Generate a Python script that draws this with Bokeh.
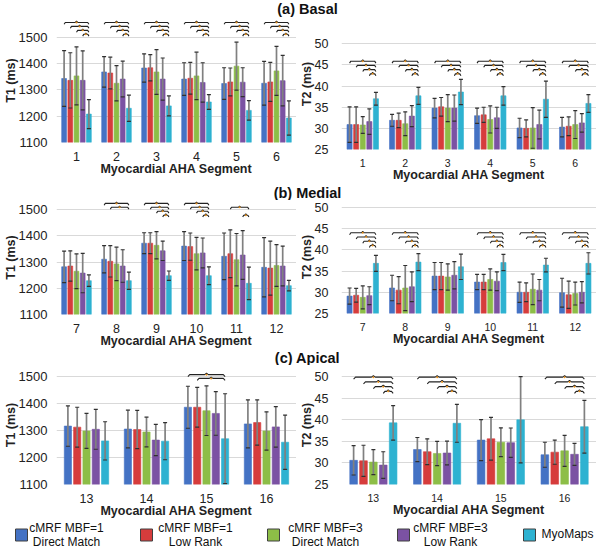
from bokeh.plotting import figure
from bokeh.layouts import column, row
from bokeh.models import ColumnDataSource, Whisker, FixedTicker, Range1d, TeeHead
from bokeh.embed import file_html
from bokeh.resources import INLINE
from bokeh.core.properties import value

# ---------------- data ----------------
SERIES_LINE1 = ["cMRF MBF=1", "cMRF MBF=1", "cMRF MBF=3", "cMRF MBF=3", "MyoMaps"]
SERIES_LINE2 = ["Direct Match", "Low Rank", "Direct Match", "Low Rank", ""]
COLORS = ["#4472C4", "#D63C3C", "#8DBE47", "#7B52A3", "#2EB2D1"]

SECTION_TITLES = ["(a) Basal", "(b) Medial", "(c) Apical"]
X_LABEL = "Myocardial AHA Segment"

basal_segments = [1, 2, 3, 4, 5, 6]
medial_segments = [7, 8, 9, 10, 11, 12]
apical_segments = [13, 14, 15, 16]

t1_ticks = [1100, 1200, 1300, 1400, 1500]
t2_ticks = [25, 30, 35, 40, 45, 50]

# rows: DM MBF1, LR MBF1, DM MBF3, LR MBF3, MyoMaps
basal_t1_mean = [[1343, 1368, 1383, 1341, 1324, 1325],
                 [1336, 1364, 1384, 1344, 1330, 1330],
                 [1353, 1325, 1368, 1353, 1390, 1372],
                 [1336, 1341, 1341, 1328, 1329, 1335],
                 [1208, 1230, 1239, 1254, 1222, 1193]]
basal_t1_sd = [[106, 58, 54, 62, 60, 83],
               [105, 60, 50, 60, 53, 74],
               [110, 67, 85, 90, 91, 93],
               [112, 68, 80, 75, 55, 96],
               [55, 50, 38, 28, 37, 65]]

basal_t2_mean = [[30.9, 31.9, 34.8, 33.0, 30.1, 30.3],
                 [30.9, 31.9, 35.1, 33.2, 30.0, 30.5],
                 [30.8, 31.1, 34.8, 32.1, 30.1, 30.9],
                 [31.6, 32.9, 34.8, 32.5, 30.9, 31.3],
                 [37.0, 37.7, 38.6, 37.7, 36.9, 35.9]]
basal_t2_sd = [[4.2, 1.4, 2.3, 1.8, 2.3, 2.3],
               [4.2, 1.7, 2.2, 1.8, 2.0, 2.2],
               [2.0, 2.8, 3.2, 3.2, 4.8, 3.3],
               [3.0, 2.5, 3.1, 2.5, 3.4, 2.2],
               [1.5, 2.0, 3.0, 2.2, 4.3, 2.1]]

medial_t1_mean = [[1282, 1311, 1372, 1361, 1322, 1280],
                  [1285, 1303, 1372, 1359, 1332, 1277],
                  [1265, 1293, 1364, 1332, 1309, 1287],
                  [1258, 1285, 1343, 1335, 1327, 1285],
                  [1229, 1229, 1248, 1248, 1219, 1210]]
medial_t1_sd = [[60, 52, 40, 55, 89, 113],
                [58, 60, 40, 52, 91, 103],
                [66, 64, 52, 62, 100, 80],
                [75, 62, 37, 57, 93, 76],
                [22, 33, 18, 34, 62, 20]]

medial_t2_mean = [[29.1, 31.0, 33.8, 32.4, 30.0, 29.9],
                  [29.3, 30.5, 33.8, 32.4, 30.0, 29.4],
                  [28.8, 31.0, 33.6, 33.0, 30.7, 29.7],
                  [29.2, 31.3, 34.0, 32.6, 30.5, 30.0],
                  [36.8, 37.1, 36.0, 37.0, 36.4, 36.8]]
medial_t2_sd = [[1.9, 3.0, 3.2, 1.8, 2.4, 3.4],
                [1.6, 3.2, 3.2, 1.8, 2.2, 3.2],
                [2.7, 5.3, 3.1, 2.5, 3.6, 2.7],
                [2.1, 3.5, 3.2, 2.2, 2.5, 2.5],
                [1.9, 2.0, 3.0, 1.9, 1.6, 2.5]]

apical_t1_mean = [[1317, 1306, 1387, 1325],
                  [1313, 1304, 1387, 1330],
                  [1299, 1295, 1374, 1299],
                  [1305, 1265, 1364, 1314],
                  [1262, 1261, 1270, 1257]]
apical_t1_sd = [[75, 70, 78, 89],
                [74, 71, 74, 84],
                [65, 55, 92, 71],
                [74, 58, 81, 75],
                [71, 69, 167, 101]]

apical_t2_mean = [[30.6, 33.1, 35.3, 31.9],
                  [30.5, 32.6, 35.6, 32.5],
                  [30.2, 32.2, 34.8, 32.8],
                  [29.5, 32.3, 34.7, 32.0],
                  [39.3, 39.2, 40.0, 38.4]]
apical_t2_sd = [[3.4, 2.8, 4.75, 2.9],
                [3.6, 3.0, 4.95, 2.8],
                [2.9, 2.8, 3.35, 3.6],
                [3.1, 2.75, 3.4, 2.55],
                [4.0, 4.4, 10.0, 6.1]]

# significance braces: segment index -> list of (start bar, stack level); all end at MyoMaps
FULL = [(0, 0), (1, 1), (2, 2), (3, 3)]
basal_t1_sig = {0: FULL, 1: FULL, 2: FULL, 3: FULL, 4: FULL, 5: FULL}
basal_t2_sig = {0: FULL, 1: FULL, 2: FULL, 3: FULL, 4: FULL, 5: FULL}
medial_t1_sig = {1: [(0, 0), (1, 1)], 2: FULL, 3: FULL, 4: [(1, 1), (3, 3)]}
medial_t2_sig = {0: FULL, 1: FULL, 3: FULL, 4: FULL, 5: FULL}
apical_t1_sig = {2: [(0, 0), (1, 1)]}
apical_t2_sig = {0: FULL, 1: FULL, 3: FULL}

# ---------------- style ----------------
FONT = "Liberation Sans"
BAR_STEP = 0.155
BAR_W = 0.12
GRID = "#d9d9d9"
PAGE_W = 596


def panel(segments, means, sds, sig, ylabel, yticks, yend, brace_top, brace_step,
          width, height, border_left, xfont, yfont, xstand, xtitle_stand, ystand, hook, bump):
    n = len(segments)
    ystart = yticks[0]
    p = figure(width=width, height=height, output_backend="svg", toolbar_location=None,
               x_range=Range1d(-0.5, n - 0.5), y_range=Range1d(ystart, yend),
               min_border_left=border_left, min_border_right=0,
               min_border_top=0, min_border_bottom=0)
    p.outline_line_color = None
    p.background_fill_color = "white"
    p.xgrid.visible = False
    p.ygrid.grid_line_color = GRID
    p.ygrid.grid_line_width = 1.2
    p.yaxis.ticker = FixedTicker(ticks=yticks)
    p.xaxis.ticker = FixedTicker(ticks=list(range(n)))
    p.xaxis.major_label_overrides = {i: str(s) for i, s in enumerate(segments)}
    for ax in (p.xaxis[0], p.yaxis[0]):
        ax.axis_line_color = None
        ax.major_tick_line_color = None
        ax.minor_tick_line_color = None
        ax.major_tick_out = 0
        ax.major_tick_in = 0
        ax.minor_tick_out = 0
        ax.minor_tick_in = 0
        ax.major_label_text_font = FONT
        ax.axis_label_text_font = FONT
        ax.axis_label_text_font_style = "bold"
        ax.axis_label_text_font_size = "12.5px"
        ax.axis_label_text_color = "#222222"
        ax.major_label_text_color = "#222222"
    p.xaxis.axis_label_standoff = xtitle_stand
    p.yaxis.axis_label_standoff = -2
    p.xaxis.major_label_text_font_size = xfont
    p.yaxis.major_label_text_font_size = yfont
    p.xaxis.major_label_standoff = xstand
    p.yaxis.major_label_standoff = ystand
    p.xaxis.axis_label = X_LABEL
    p.yaxis.axis_label = ylabel

    for j in range(5):
        xs = [i + (j - 2) * BAR_STEP for i in range(n)]
        src = ColumnDataSource(dict(
            x=xs, top=means[j],
            upper=[m + s for m, s in zip(means[j], sds[j])],
            lower=[m - s for m, s in zip(means[j], sds[j])]))
        p.vbar(x="x", top="top", bottom=ystart, width=BAR_W, source=src,
               fill_color=COLORS[j], line_color=COLORS[j], line_alpha=0.6, line_width=1)
        w = Whisker(source=src, base="x", upper="upper", lower="lower",
                    line_color="#808080", line_width=1.7, level="annotation",
                    upper_head=TeeHead(size=4, line_color="#303030", line_width=1.2),
                    lower_head=TeeHead(size=4, line_color="#303030", line_width=1.2))
        p.add_layout(w)

    bx, by, sx, sy = [], [], [], []
    for seg, pairs in sig.items():
        x1 = seg + 2 * BAR_STEP
        for start, level in pairs:
            x0 = seg + (start - 2) * BAR_STEP
            y = brace_top - level * brace_step
            xm = (x0 + x1) / 2
            e = min(0.03, (x1 - x0) / 6)
            bx.append([x0, x0 + e, xm - e, xm, xm + e, x1 - e, x1])
            by.append([y - hook, y, y, y + bump, y, y, y - hook])
            sx.append(xm)
            sy.append(y)
    if bx:
        p.multi_line(bx, by, line_color="#222222", line_width=1.1)
        p.scatter(sx, sy, size=2, marker="circle", fill_color="#E8901A", line_color=None)
    return p


def title_fig(txt, height):
    p = figure(width=PAGE_W, height=height, output_backend="svg", toolbar_location=None,
               x_range=Range1d(0, PAGE_W), y_range=Range1d(0, height),
               x_axis_type=None, y_axis_type=None,
               min_border=0)
    p.outline_line_color = None
    p.grid.visible = False
    p.text(x=[307], y=[height / 2 + 0.5], text=[txt], text_font=value(FONT),
           text_font_style="bold", text_font_size="14.5px", text_align="center",
           text_baseline="middle", text_color="#111111")
    return p


def legend_fig(height):
    p = figure(width=PAGE_W, height=height, output_backend="svg", toolbar_location=None,
               x_range=Range1d(0, PAGE_W), y_range=Range1d(0, height),
               x_axis_type=None, y_axis_type=None, min_border=0)
    p.outline_line_color = None
    p.grid.visible = False
    sq_x = [21, 146, 273, 403, 529]
    tx = [66, 195, 325, 450, 541]
    ymid = height / 2
    p.rect(x=sq_x, y=[ymid] * 5, width=12, height=12, fill_color=COLORS,
           line_color="#404040", line_width=1)
    for k in range(5):
        if SERIES_LINE2[k]:
            p.text(x=[tx[k]], y=[ymid + 7], text=[SERIES_LINE1[k]], text_font=value(FONT),
                   text_font_size="12px", text_align="center", text_baseline="middle",
                   text_color="#111111")
            p.text(x=[tx[k]], y=[ymid - 7], text=[SERIES_LINE2[k]], text_font=value(FONT),
                   text_font_size="12px", text_align="center", text_baseline="middle",
                   text_color="#111111")
        else:
            p.text(x=[tx[k]], y=[ymid + 1], text=[SERIES_LINE1[k]], text_font=value(FONT),
                   text_font_size="12px", text_align="left", text_baseline="middle",
                   text_color="#111111")
    return p


LW, RW = 296, 300

b1 = panel(basal_segments, basal_t1_mean, basal_t1_sd, basal_t1_sig, "T1 (ms)", t1_ticks, 1571,
           1556, 15, LW, 160, 52, "12.5px", "13px", 9, -2, 9, 7, 5)
b2 = panel(basal_segments, basal_t2_mean, basal_t2_sd, basal_t2_sig, "T2 (ms)", t2_ticks, 56.0,
           45.9, 1.0, RW, 167, 42, "10.5px", "12.5px", 9, -2, 13, 0.45, 0.33)
m1 = panel(medial_segments, medial_t1_mean, medial_t1_sd, medial_t1_sig, "T1 (ms)", t1_ticks, 1535,
           1524, 15, LW, 150, 52, "12.5px", "13px", 9, -2, 9, 7, 5)
m2 = panel(medial_segments, medial_t2_mean, medial_t2_sd, medial_t2_sig, "T2 (ms)", t2_ticks, 51.6,
           44.0, 1.0, RW, 149, 42, "10.5px", "12.5px", 9, -2, 13, 0.45, 0.33)
a1 = panel(apical_segments, apical_t1_mean, apical_t1_sd, apical_t1_sig, "T1 (ms)", t1_ticks, 1542,
           1508, 14, LW, 155, 52, "12.5px", "13px", 9, -2, 9, 7, 5)
a2 = panel(apical_segments, apical_t2_mean, apical_t2_sd, apical_t2_sig, "T2 (ms)", t2_ticks, 52.6,
           49.9, 1.1, RW, 155, 42, "10.5px", "12.5px", 9, -2, 13, 0.45, 0.33)

layout = column(
    title_fig(SECTION_TITLES[0], 18),
    row(b1, b2),
    title_fig(SECTION_TITLES[1], 15),
    row(m1, m2),
    title_fig(SECTION_TITLES[2], 15),
    row(a1, a2),
    legend_fig(29),
)

open("out.html", "w").write(file_html(layout, INLINE))
